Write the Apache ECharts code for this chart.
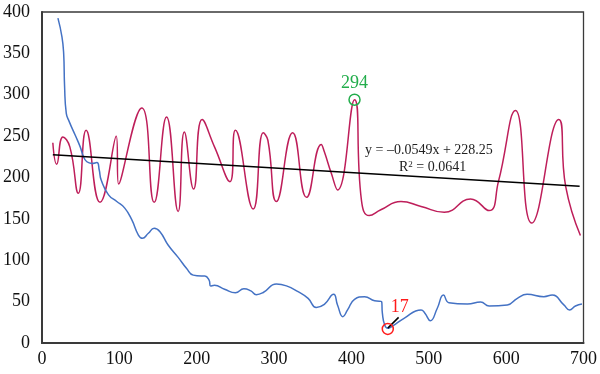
<!DOCTYPE html>
<html>
<head>
<meta charset="utf-8">
<script src="https://cdn.jsdelivr.net/npm/echarts@6/dist/echarts.min.js"></script>
<style>
html,body{margin:0;padding:0;background:#fff;}
#chart{width:600px;height:374px;}
</style>
</head>
<body>
<div id="chart"></div>
<script>
// Blue series: [x, y]
const blueSeries = [
  [20.6,392.6],[25.8,370],[28,350],[29.2,310],[31.4,277.6],[35.2,267.5],[43,251],[49.4,237],
  [53.7,225],[58,219],[64.5,217],[71,218],[74,209],[76.5,197],[86,179],[96.7,171],[107,163],
  [116,149],[124.6,130.5],[129.8,126.5],[137.5,132.6],[145,138.6],[152.5,134.5],[163,118.4],
  [176,103.5],[187,90],[195.5,82],[206,81],[210.5,81],[216,76],[218,69],[223,69.7],[236,65],
  [250,60.8],[261,65.6],[270,63],[277,58.4],[286,61],[303,71.3],[316,69],[331,62],[344,54],
  [354.5,43],[365,46.7],[377,58.8],[382,46],[389,31.8],[395,40],[404,52.8],[417,56],[430,51],
  [439,50],[440,36],[443,21.8],[447,17.8],[453,20.5],[468,29.8],[490,40],[495,36],[502,27],
  [511,42],[519,58],[526,48.7],[550,47],[567,49.6],[578,44.7],[601.5,46],[614.5,54],[627,58.8],
  [648.8,56],[659.5,58],[674.6,46],[682,40],[689.6,44.7],[698,47]
];
// Red series: [x, y]
const redSeries = [
  [14,242],[19,216],[27,249],[36,237],[47,181],[57,257],[75,170],[96,250],[99,192],[129,284],
  [145,170],[161,273],[176,159],[184,255],[196,186],[207,270],[223,237],[243,195],[250,257],
  [273,162],[286,254],[292,245],[303,171],[324,254],[342,176],[361,240],[365,231],[374,205],
  [382,185],[404,294],[413,172],[423,154],[438,161],[464,171],[490,165],[520,158],[554,174],
  [578,160],[590,195],[612,281],[633,145],[668,270],[677,189],[696,130]
];
// Linear trendline endpoints
const trendLine = [[14,227.5],[695,189.5]];
const trendEquation = 'y = \u20130.0549x + 228.25';
const trendR2 = '0.0641';
// Annotated points
const maxPoint = [404, 294];
const minPoint = [447, 17];
const minLeader = [[447,18],[461,31]];

const serif = 'Liberation Serif, Times New Roman, serif';
const chart = echarts.init(document.getElementById('chart'), null, {renderer:'canvas'});
chart.setOption({
  animation: false,
  backgroundColor: '#fff',
  grid: {left: 40, right: 15, top: 12, bottom: 31, show: true, borderColor: '#3a3a3a', borderWidth: 1.3},
  xAxis: {
    type: 'value', min: 0, max: 700, interval: 100,
    axisLine: {show: true, onZero: false, lineStyle: {color: '#3a3a3a', width: 2}},
    axisTick: {show: false}, splitLine: {show: false},
    axisLabel: {fontFamily: serif, fontSize: 18, color: '#111', margin: 7}
  },
  yAxis: {
    type: 'value', min: 0, max: 400, interval: 50,
    axisLine: {show: true, onZero: false, lineStyle: {color: '#3a3a3a', width: 2}},
    axisTick: {show: false}, splitLine: {show: false},
    axisLabel: {fontFamily: serif, fontSize: 18, color: '#111', margin: 12}
  },
  series: [
    {
      type: 'line', data: redSeries, smooth: 0.5, showSymbol: false,
      lineStyle: {color: '#BE1E5A', width: 1.5},
      markPoint: {
        symbol: 'circle', symbolSize: 11,
        itemStyle: {color: 'rgba(0,0,0,0)', borderColor: '#22AD4B', borderWidth: 1.5},
        label: {show: true, position: 'inside', offset: [0, -16], formatter: '294',
                color: '#22AD4B', fontFamily: serif, fontSize: 18},
        data: [{coord: maxPoint, value: maxPoint[1]}]
      }
    },
    {
      type: 'line', data: blueSeries, smooth: 0.5, showSymbol: false,
      lineStyle: {color: '#4472C4', width: 1.5},
      markPoint: {
        symbol: 'circle', symbolSize: 11,
        itemStyle: {color: 'rgba(0,0,0,0)', borderColor: '#FF1A1A', borderWidth: 1.5},
        label: {show: true, position: 'inside', offset: [12, -22], formatter: String(minPoint[1]),
                color: '#FF1A1A', fontFamily: serif, fontSize: 18},
        data: [{coord: minPoint, value: minPoint[1]}]
      },
      markLine: {
        silent: true, symbol: ['none','none'],
        lineStyle: {color: '#000', width: 1.5, type: 'solid'},
        label: {show: false},
        data: [[{coord: minLeader[0]}, {coord: minLeader[1]}]]
      }
    },
    {
      type: 'line', data: trendLine, showSymbol: false,
      lineStyle: {color: '#000', width: 1.5}
    }
  ],
  graphic: [
    {type: 'text', left: 365, top: 143, style: {text: trendEquation, font: '14px ' + serif, fill: '#222'}},
    {type: 'text', left: 399, top: 160, style: {
      text: '{r|R}{s|2}{r| = ' + trendR2 + '}',
      rich: {r: {font: '14px ' + serif, fill: '#222', color: '#222'},
             s: {font: '9px ' + serif, fill: '#222', color: '#222', verticalAlign: 'top', padding: [0,0,6,0]}}
    }}
  ]
});
</script>
</body>
</html>
